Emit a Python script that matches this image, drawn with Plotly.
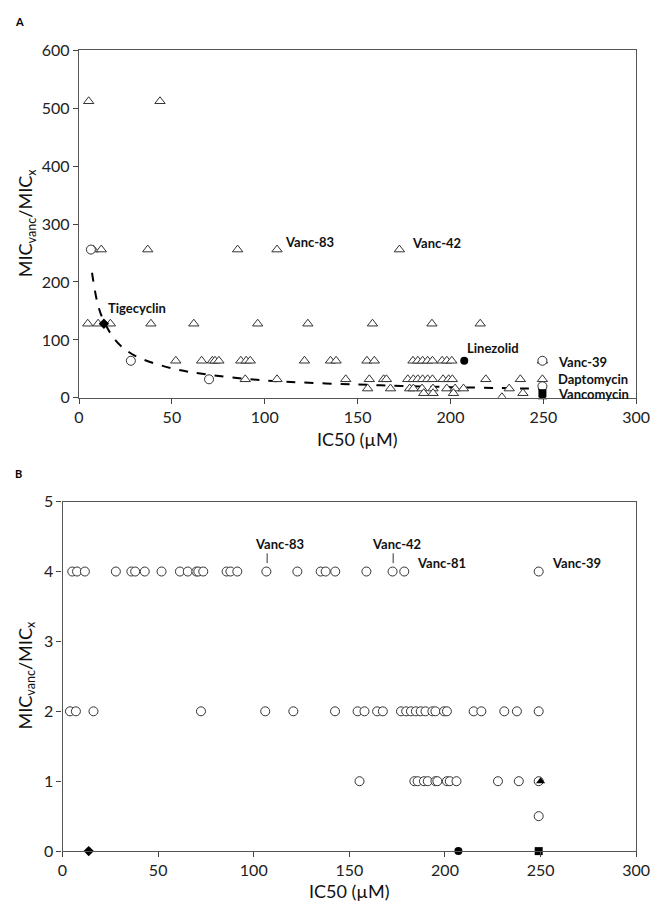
import plotly.graph_objects as go

# ---------------- Panel A data ----------------
A_tri_x = [5.2, 43.6,
           7.7, 12, 37, 85.4, 106.6, 172.5,
           4.7, 10.3, 16.9, 38.7, 61.8, 96.2, 123.2, 158, 190, 216,
           52.1, 66, 71.8, 73.2, 75.3, 87.1, 90, 92.2, 121.4, 135.4, 138.4, 155, 159,
           179.8, 182.4, 185, 187.7, 190.3, 195.5, 198, 200.7, 249.5,
           89.5, 106.6, 143.6, 156.3, 164, 165.5, 177, 180, 182.4, 185, 187.7, 190.3,
           196, 199, 201, 219, 237.6, 249.5,
           155.4, 167.7, 178, 180, 184.7, 190.6, 198, 202.5, 207, 231.6,
           185.6, 190.6, 201.6, 239,
           227.7]
A_tri_y = [512, 512,
           256, 256, 256, 256, 256, 256,
           128, 128, 128, 128, 128, 128, 128, 128, 128, 128,
           64, 64, 64, 64, 64, 64, 64, 64, 64, 64, 64, 64, 64,
           64, 64, 64, 64, 64, 64, 64, 64, 64,
           32, 32, 32, 32, 32, 32, 32, 32, 32, 32, 32, 32,
           32, 32, 32, 32, 32, 32,
           16, 16, 16, 16, 16, 16, 16, 16, 16, 16,
           8, 8, 8, 8,
           1]
A_circ_x = [6.4, 27.9, 70, 249.5, 249.5]
A_circ_y = [256, 64, 32, 64, 20]

A_ref_names = ["Tigecyclin", "Linezolid", "Vancomycin", "Daptomycin"]
A_ref_x = [13.4, 207.4, 249.5, 249.5]
A_ref_y = [128, 64, 8, 1]
A_ref_sym = ["diamond", "circle", "square", "triangle-up"]

trend_x = [7, 10, 13, 20, 30, 50, 70, 100, 150, 200, 250]
trend_y = [216, 163, 135, 98, 73, 51, 40, 30, 23, 18.5, 15.7]

A_lab_text = ["Tigecyclin", "Vanc-83", "Vanc-42", "Linezolid", "Vanc-39", "Daptomycin", "Vancomycin"]
A_lab_x = [14.6, 110, 178, 208, 256.8, 256.8, 256.8]
A_lab_y = [155, 269, 267, 86, 62.5, 32, 7]

# ---------------- Panel B data ----------------
B_x4 = [5.1, 7.6, 11.7, 27.9, 36, 38, 43, 51.8, 61.4, 65.5, 70, 71, 73.6, 85.8, 87.8,
        91.4, 106.6, 122.8, 135, 137.6, 142.6, 158.9, 172.6, 178.7, 249]
B_x2 = [3.9, 7, 16.2, 72.4, 106, 120.7, 142.5, 154.3, 157.9, 164.5, 167.5, 177, 179.7,
        182.2, 184.8, 187.3, 189.8, 193.4, 195, 199.5, 201, 215, 219, 231, 237.6, 249]
B_x1 = [155.3, 184, 185.7, 189, 191, 195, 196, 201, 202.5, 206, 227.7, 238.6, 249]
B_x05 = [249]
B_ref_x = [13.7, 207, 249, 250]
B_ref_y = [0, 0, 0, 1]
B_ref_sym = ["diamond", "circle", "square", "triangle-up"]

B_lab_text = ["Vanc-83", "Vanc-42", "Vanc-81", "Vanc-39"]
B_lab_x = [113.4, 174.6, 184.3, 254.8]
B_lab_y = [4.39, 4.39, 4.12, 4.12]
B_lab_anchor = ["center", "center", "left", "left"]
B_tick_x = [107.0, 172.9]

x_ticks = [0, 50, 100, 150, 200, 250, 300]
A_y_ticks = [0, 100, 200, 300, 400, 500, 600]
B_y_ticks = [0, 1, 2, 3, 4, 5]

FONT = "Lato, 'Open Sans', sans-serif"
OFF = 8            # default page body margin
W, H = 650, 904    # page = 666 x 920


def px(x):
    return (x - OFF) / W


def py(y):
    return 1 - (y - OFF) / H


fig = go.Figure()

open_marker = dict(color="white", size=9, line=dict(color="#333", width=1))

# Panel A
fig.add_trace(go.Scatter(x=trend_x, y=trend_y, mode="lines", line=dict(color="black", width=2, dash="dash", shape="spline"),
                         xaxis="x", yaxis="y", hoverinfo="skip"))
fig.add_trace(go.Scatter(x=A_tri_x, y=A_tri_y, mode="markers",
                         marker=dict(symbol="triangle-up", **open_marker), xaxis="x", yaxis="y"))
fig.add_trace(go.Scatter(x=A_circ_x, y=A_circ_y, mode="markers",
                         marker=dict(symbol="circle", **open_marker), xaxis="x", yaxis="y"))
fig.add_trace(go.Scatter(x=A_ref_x, y=A_ref_y, mode="markers", text=A_ref_names,
                         marker=dict(symbol=A_ref_sym, color="black", size=8), xaxis="x", yaxis="y",
                         cliponaxis=False))

# Panel B
fig.add_trace(go.Scatter(x=B_x4 + B_x2 + B_x1 + B_x05,
                         y=[4] * len(B_x4) + [2] * len(B_x2) + [1] * len(B_x1) + [0.5] * len(B_x05),
                         mode="markers", marker=dict(symbol="circle", **open_marker),
                         xaxis="x2", yaxis="y2"))
fig.add_trace(go.Scatter(x=B_ref_x, y=B_ref_y, mode="markers",
                         marker=dict(symbol=B_ref_sym, color="black", size=8),
                         xaxis="x2", yaxis="y2", cliponaxis=False))

axis_common = dict(showgrid=False, zeroline=False, showline=True, linecolor="#555", linewidth=1.3,
                   mirror=True, ticks="outside", ticklen=5, tickcolor="#444",
                   ticklabeloverflow="allow",
                   tickfont=dict(family=FONT, size=16, color="#222"))

fig.update_layout(
    width=W, height=H, margin=dict(l=0, r=0, t=0, b=0),
    paper_bgcolor="white", plot_bgcolor="white", showlegend=False,
    xaxis=dict(domain=[px(76), px(650)], range=[0, 300], tickvals=x_ticks, anchor="y", **axis_common),
    yaxis=dict(domain=[py(396), py(41)], range=[0, 600], tickvals=A_y_ticks, anchor="x", **axis_common),
    xaxis2=dict(domain=[px(59), px(650)], range=[0, 300], tickvals=x_ticks, anchor="y2", **axis_common),
    yaxis2=dict(domain=[py(859), py(502)], range=[0, 5], tickvals=B_y_ticks, anchor="x2", **axis_common),
)

ann = []
for t, x, y in zip(A_lab_text, A_lab_x, A_lab_y):
    ann.append(dict(text="<b>%s</b>" % t, x=x, y=y, xref="x", yref="y", showarrow=False,
                    xanchor="left", yanchor="middle", font=dict(family=FONT, size=13, color="#111")))
for t, x, y, a in zip(B_lab_text, B_lab_x, B_lab_y, B_lab_anchor):
    ann.append(dict(text="<b>%s</b>" % t, x=x, y=y, xref="x2", yref="y2", showarrow=False,
                    xanchor=a, yanchor="middle", font=dict(family=FONT, size=13, color="#111")))
for xv in B_tick_x:
    fig.add_shape(type="line", xref="x2", yref="y2", x0=xv, x1=xv, y0=4.12, y1=4.26,
                  line=dict(color="#333", width=1))

title_font = dict(family=FONT, size=18, color="#111")
ann += [
    dict(text="<b>A</b>", x=0, y=py(12), xref="paper", yref="paper", showarrow=False,
         xanchor="left", yanchor="middle", font=dict(family=FONT, size=11, color="black")),
    dict(text="<b>B</b>", x=0, y=py(473), xref="paper", yref="paper", showarrow=False,
         xanchor="left", yanchor="middle", font=dict(family=FONT, size=11, color="black")),
    dict(text="MIC<sub>vanc</sub>/MIC<sub>x</sub>", x=px(22), y=py(218), xref="paper", yref="paper",
         showarrow=False, textangle=-90, xanchor="center", yanchor="middle", font=title_font),
    dict(text="MIC<sub>vanc</sub>/MIC<sub>x</sub>", x=px(22), y=py(680), xref="paper", yref="paper",
         showarrow=False, textangle=-90, xanchor="center", yanchor="middle", font=title_font),
    dict(text="IC50 (µM)", x=px(363), y=py(438), xref="paper", yref="paper", showarrow=False,
         xanchor="center", yanchor="middle", font=title_font),
    dict(text="IC50 (µM)", x=px(355), y=py(900), xref="paper", yref="paper", showarrow=False,
         xanchor="center", yanchor="middle", font=title_font),
]
fig.update_layout(annotations=ann)

fig.write_html(
    "out.html", config={"displayModeBar": False},
    post_script=("document.documentElement.style.overflow='hidden';"
                 "document.body.style.overflow='hidden';"
                 "document.querySelectorAll('svg.main-svg').forEach(function(s){s.style.overflow='visible';});"))
